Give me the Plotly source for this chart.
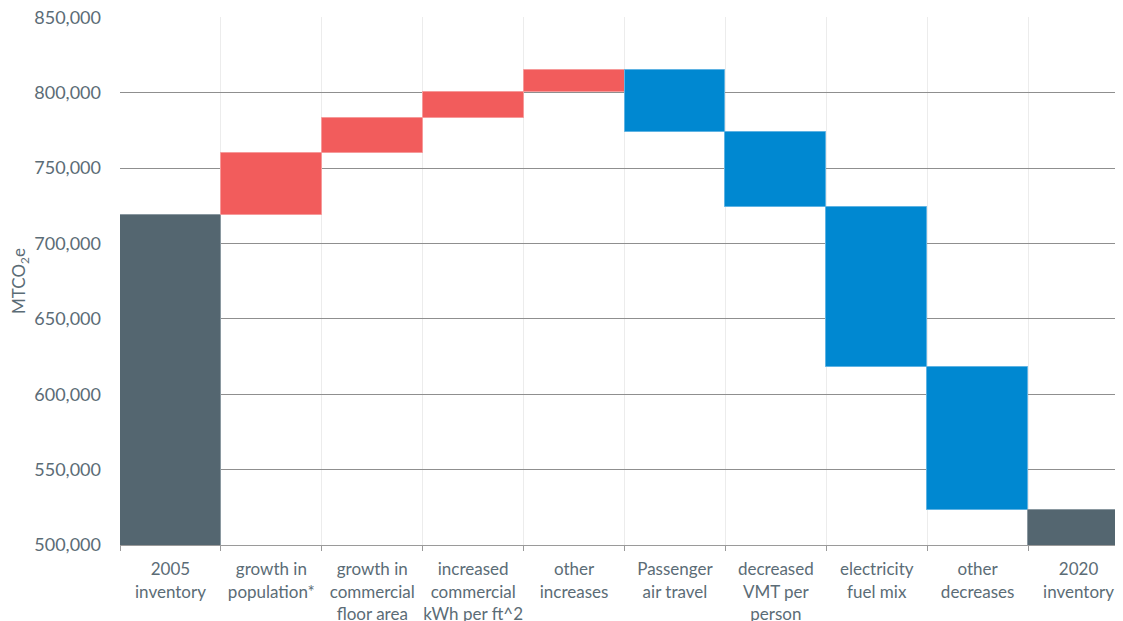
import plotly.graph_objects as go

categories = [
    "2005<br>inventory",
    "growth in<br>population*",
    "growth in<br>commercial<br>floor area",
    "increased<br>commercial<br>kWh per ft^2",
    "other<br>increases",
    "Passenger<br>air travel",
    "decreased<br>VMT per<br>person",
    "electricity<br>fuel mix",
    "other<br>decreases",
    "2020<br>inventory",
]
measures = ["absolute", "relative", "relative", "relative", "relative",
            "relative", "relative", "relative", "relative", "total"]
values = [719000, 41000, 23000, 17500, 14500,
          -41000, -50000, -106000, -95000, 0]

y_ticks = [500000, 550000, 600000, 650000, 700000, 750000, 800000, 850000]

text_color = "#5b6c76"
font_family = "Lato, 'Open Sans', sans-serif"

fig = go.Figure(go.Waterfall(
    x=categories,
    y=values,
    measure=measures,
    connector=dict(visible=False),
    increasing=dict(marker=dict(color="#F25C5C", line=dict(color="#f69a9a", width=1))),
    decreasing=dict(marker=dict(color="#0088D1", line=dict(color="#5fb3e3", width=1))),
    totals=dict(marker=dict(color="#546670", line=dict(color="#8a98a0", width=1))),
    textposition="none",
    hoverinfo="skip",
))

fig.update_layout(
    width=1123, height=621,
    margin=dict(l=112, r=2, t=9, b=84),
    paper_bgcolor="white",
    plot_bgcolor="white",
    waterfallgap=0,
    showlegend=False,
    font=dict(family=font_family, color=text_color, size=17),
)

fig.update_xaxes(
    type="category",
    tickson="boundaries",
    tickangle=0,
    automargin=False,
    ticklabeloverflow="allow",
    showgrid=True,
    gridcolor="#ececec",
    gridwidth=1,
    showline=True,
    linecolor="#9a9a9a",
    linewidth=1,
    ticks="outside",
    ticklen=5,
    tickcolor="#9a9a9a",
    ticklabelstandoff=9,
    tickfont=dict(size=17, color=text_color, family=font_family),
    range=[-0.5, 9.5],
    fixedrange=True,
)

fig.update_yaxes(
    automargin=False,
    ticklabeloverflow="allow",
    range=[500000, 850300],
    tickvals=y_ticks,
    ticktext=[f"{v:,}" for v in y_ticks],
    showgrid=True,
    gridcolor="#8f8f8f",
    gridwidth=1,
    zeroline=False,
    showline=False,
    ticks="",
    ticklabelstandoff=18,
    tickfont=dict(size=18, color=text_color, family=font_family),
    title=dict(text="MTCO<sub>2</sub>e", font=dict(size=17, color=text_color, family=font_family), standoff=6),
)

fig.write_html("out.html")
